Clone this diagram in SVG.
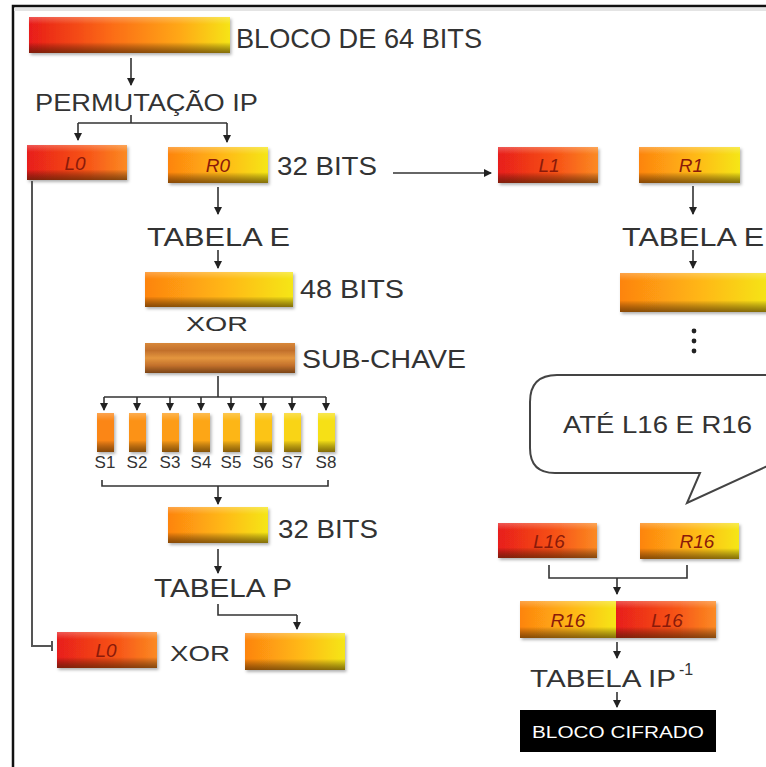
<svg xmlns="http://www.w3.org/2000/svg" width="766" height="767" viewBox="0 0 766 767">
  <defs>
    <linearGradient id="gFull" x1="0" y1="0" x2="1" y2="0">
      <stop offset="0" stop-color="#e81c1a"/>
      <stop offset="0.4" stop-color="#fb6a14"/>
      <stop offset="0.75" stop-color="#ffa814"/>
      <stop offset="1" stop-color="#f6e414"/>
    </linearGradient>
    <linearGradient id="gL" x1="0" y1="0" x2="1" y2="0">
      <stop offset="0" stop-color="#e81e1a"/>
      <stop offset="0.6" stop-color="#f75418"/>
      <stop offset="1" stop-color="#fb8a22"/>
    </linearGradient>
    <linearGradient id="gR" x1="0" y1="0" x2="1" y2="0">
      <stop offset="0" stop-color="#fd8410"/>
      <stop offset="0.55" stop-color="#ffb814"/>
      <stop offset="1" stop-color="#f5e614"/>
    </linearGradient>
    <linearGradient id="gSub" x1="0" y1="0" x2="0" y2="1">
      <stop offset="0" stop-color="#d8883a"/>
      <stop offset="0.25" stop-color="#c2702c"/>
      <stop offset="0.5" stop-color="#e4963e"/>
      <stop offset="0.75" stop-color="#c2702c"/>
      <stop offset="1" stop-color="#7a4416"/>
    </linearGradient>
    <linearGradient id="shade" x1="0" y1="0" x2="0" y2="1">
      <stop offset="0" stop-color="#ffffff" stop-opacity="0.25"/>
      <stop offset="0.2" stop-color="#ffffff" stop-opacity="0"/>
      <stop offset="0.7" stop-color="#000000" stop-opacity="0"/>
      <stop offset="1" stop-color="#3a2000" stop-opacity="0.6"/>
    </linearGradient>
    <filter id="drop" x="-10%" y="-20%" width="130%" height="160%">
      <feDropShadow dx="1.5" dy="2" stdDeviation="1.5" flood-color="#000" flood-opacity="0.3"/>
    </filter>
    <marker id="ah" markerWidth="8" markerHeight="8" refX="7" refY="4" orient="auto" markerUnits="userSpaceOnUse">
      <path d="M0,0 L8,4 L0,8 Z" fill="#222"/>
    </marker>
    <style>
      .t { font-family: "Liberation Sans", "DejaVu Sans", sans-serif; fill: #333; }
      .lb { font-family: "Liberation Sans", "DejaVu Sans", sans-serif; font-style: italic; fill: #8a1a0a; font-size: 19px; text-anchor: middle; }
      .ln { stroke: #333; stroke-width: 1.6; fill: none; }
      .arr { marker-end: url(#ah); }
      .bar { filter: url(#drop); }
    </style>
  </defs>

  <rect x="0" y="0" width="766" height="767" fill="#ffffff"/>

  <!-- frame -->
  <path d="M13 767 V6 H766" fill="none" stroke="#111" stroke-width="2.5"/>
  <rect x="14" y="8" width="752" height="3" fill="#e4e4e4"/>

  <!-- blocks -->
  <g id="bloco64">
    <g class="bar"><rect x="29" y="17" width="201" height="36" fill="url(#gFull)"/></g>
    <rect x="29" y="17" width="201" height="36" fill="url(#shade)"/>
    <text class="t" x="236" y="48" font-size="28" textLength="246" lengthAdjust="spacingAndGlyphs">BLOCO DE 64 BITS</text>
  </g>

  <text class="t" x="35" y="111" font-size="24" textLength="223" lengthAdjust="spacingAndGlyphs">PERMUTAÇÃO IP</text>

  <g id="L0">
    <g class="bar"><rect x="27" y="145" width="100" height="35" fill="url(#gL)"/></g>
    <rect x="27" y="145" width="100" height="35" fill="url(#shade)"/>
    <text class="lb" x="75" y="170">L0</text>
  </g>

  <g id="R0">
    <g class="bar"><rect x="168" y="147" width="100" height="36" fill="url(#gR)"/></g>
    <rect x="168" y="147" width="100" height="36" fill="url(#shade)"/>
    <text class="lb" x="218" y="172">R0</text>
    <text class="t" x="277" y="175" font-size="25" textLength="100" lengthAdjust="spacingAndGlyphs">32 BITS</text>
  </g>

  <g id="L1">
    <g class="bar"><rect x="498" y="147" width="100" height="36" fill="url(#gL)"/></g>
    <rect x="498" y="147" width="100" height="36" fill="url(#shade)"/>
    <text class="lb" x="549" y="172">L1</text>
  </g>

  <g id="R1">
    <g class="bar"><rect x="639" y="147" width="101" height="36" fill="url(#gR)"/></g>
    <rect x="639" y="147" width="101" height="36" fill="url(#shade)"/>
    <text class="lb" x="691" y="172">R1</text>
  </g>

  <text class="t" x="147" y="246" font-size="25" textLength="143" lengthAdjust="spacingAndGlyphs">TABELA E</text>
  <text class="t" x="622" y="246" font-size="25" textLength="142" lengthAdjust="spacingAndGlyphs">TABELA E</text>

  <g id="e48">
    <g class="bar"><rect x="145" y="272" width="148" height="35" fill="url(#gR)"/></g>
    <rect x="145" y="272" width="148" height="35" fill="url(#shade)"/>
    <text class="t" x="300" y="298" font-size="25" textLength="104" lengthAdjust="spacingAndGlyphs">48 BITS</text>
  </g>

  <g id="e48right">
    <g class="bar"><rect x="620" y="273" width="150" height="39" fill="url(#gR)"/></g>
    <rect x="620" y="273" width="150" height="39" fill="url(#shade)"/>
  </g>

  <text class="t" x="186" y="331" font-size="21" textLength="62" lengthAdjust="spacingAndGlyphs">XOR</text>

  <g id="subchave">
    <g class="bar"><rect x="145" y="343" width="150" height="30" fill="url(#gSub)"/></g>
    <text class="t" x="302" y="368" font-size="25" textLength="164" lengthAdjust="spacingAndGlyphs">SUB-CHAVE</text>
  </g>

  <!-- continuation dots -->
  <g id="dots" fill="#222">
    <circle cx="694" cy="331" r="2.4"/>
    <circle cx="694" cy="341" r="2.4"/>
    <circle cx="694" cy="351" r="2.4"/>
  </g>

  <!-- S-boxes -->
  <g id="sboxes">
    <g class="bar">
      <rect x="97" y="413" width="17" height="39" fill="#fb8612"/>
      <rect x="129" y="413" width="17" height="39" fill="#fc9212"/>
      <rect x="162" y="413" width="17" height="39" fill="#fd9c12"/>
      <rect x="193" y="413" width="17" height="39" fill="#fda612"/>
      <rect x="223" y="413" width="17" height="39" fill="#fdb614"/>
      <rect x="255" y="413" width="17" height="39" fill="#fcc414"/>
      <rect x="284" y="413" width="17" height="39" fill="#f9d416"/>
      <rect x="318" y="413" width="17" height="39" fill="#f6e018"/>
    </g>
    <g fill="url(#shade)">
      <rect x="97" y="413" width="17" height="39"/>
      <rect x="129" y="413" width="17" height="39"/>
      <rect x="162" y="413" width="17" height="39"/>
      <rect x="193" y="413" width="17" height="39"/>
      <rect x="223" y="413" width="17" height="39"/>
      <rect x="255" y="413" width="17" height="39"/>
      <rect x="284" y="413" width="17" height="39"/>
      <rect x="318" y="413" width="17" height="39"/>
    </g>
    <g class="t" font-size="17" text-anchor="middle">
      <text x="105" y="468">S1</text>
      <text x="137" y="468">S2</text>
      <text x="170" y="468">S3</text>
      <text x="201" y="468">S4</text>
      <text x="231" y="468">S5</text>
      <text x="263" y="468">S6</text>
      <text x="292" y="468">S7</text>
      <text x="326" y="468">S8</text>
    </g>
  </g>

  <g id="p32">
    <g class="bar"><rect x="168" y="507" width="100" height="36" fill="url(#gR)"/></g>
    <rect x="168" y="507" width="100" height="36" fill="url(#shade)"/>
    <text class="t" x="278" y="538" font-size="25" textLength="100" lengthAdjust="spacingAndGlyphs">32 BITS</text>
  </g>

  <text class="t" x="154" y="597" font-size="25" textLength="138" lengthAdjust="spacingAndGlyphs">TABELA P</text>

  <g id="L0b">
    <g class="bar"><rect x="57" y="632" width="100" height="36" fill="url(#gL)"/></g>
    <rect x="57" y="632" width="100" height="36" fill="url(#shade)"/>
    <text class="lb" x="106" y="657">L0</text>
  </g>

  <text class="t" x="170" y="661" font-size="22" textLength="60" lengthAdjust="spacingAndGlyphs">XOR</text>

  <g id="fout">
    <g class="bar"><rect x="245" y="633" width="100" height="37" fill="url(#gR)"/></g>
    <rect x="245" y="633" width="100" height="37" fill="url(#shade)"/>
  </g>

  <!-- speech bubble -->
  <g id="bubble">
    <path d="M557 375 H770 Q800 375 800 405 V451 L687 503 L700 473 H555 Q530 473 530 448 V402 Q530 375 557 375 Z" fill="#ffffff" stroke="#444" stroke-width="2"/>
    <text class="t" x="563" y="433" font-size="24" textLength="189" lengthAdjust="spacingAndGlyphs">ATÉ L16 E R16</text>
  </g>

  <g id="L16">
    <g class="bar"><rect x="498" y="523" width="99" height="35" fill="url(#gL)"/></g>
    <rect x="498" y="523" width="99" height="35" fill="url(#shade)"/>
    <text class="lb" x="549" y="548">L16</text>
  </g>

  <g id="R16">
    <g class="bar"><rect x="640" y="523" width="99" height="36" fill="url(#gR)"/></g>
    <rect x="640" y="523" width="99" height="36" fill="url(#shade)"/>
    <text class="lb" x="697" y="548">R16</text>
  </g>

  <g id="R16L16">
    <g class="bar">
      <rect x="520" y="601" width="96" height="37" fill="url(#gR)"/>
      <rect x="616" y="601" width="100" height="37" fill="url(#gL)"/>
    </g>
    <rect x="520" y="601" width="196" height="37" fill="url(#shade)"/>
    <text class="lb" x="568" y="627">R16</text>
    <text class="lb" x="667" y="627">L16</text>
  </g>

  <text class="t" x="530" y="687" font-size="24" textLength="146" lengthAdjust="spacingAndGlyphs">TABELA IP</text>
  <text class="t" x="679" y="675" font-size="16">-1</text>

  <g id="cifrado">
    <rect x="520" y="710" width="196" height="42" fill="#000"/>
    <text x="618" y="738" font-family="Liberation Sans, DejaVu Sans, sans-serif" font-size="17" fill="#ffffff" text-anchor="middle" textLength="172" lengthAdjust="spacingAndGlyphs">BLOCO CIFRADO</text>
  </g>

  <!-- connectors -->
  <g id="connectors">
    <path class="ln arr" d="M131 58 V85"/>
    <path class="ln" d="M131 115 V123 M78 123 H227"/>
    <path class="ln arr" d="M78 123 V140"/>
    <path class="ln arr" d="M227 123 V142"/>
    <path class="ln arr" d="M393 173 H491"/>
    <path class="ln arr" d="M218 187 V214"/>
    <path class="ln arr" d="M693 186 V214"/>
    <path class="ln arr" d="M218 250 V268"/>
    <path class="ln arr" d="M693 250 V268"/>
    <path class="ln" d="M218 376 V397 M104 397 H326"/>
    <path class="ln arr" d="M104 397 V410"/>
    <path class="ln arr" d="M137 397 V410"/>
    <path class="ln arr" d="M170 397 V410"/>
    <path class="ln arr" d="M201 397 V410"/>
    <path class="ln arr" d="M231 397 V410"/>
    <path class="ln arr" d="M263 397 V410"/>
    <path class="ln arr" d="M292 397 V410"/>
    <path class="ln arr" d="M326 397 V410"/>
    <path class="ln" d="M102 480 V486 H328 V480"/>
    <path class="ln arr" d="M218 486 V504"/>
    <path class="ln arr" d="M218 549 V573"/>
    <path class="ln" d="M218 604 V615 H297"/>
    <path class="ln arr" d="M297 615 V629"/>
    <path d="M32 181 V646 H52 M52 641 V651" fill="none" stroke="#555" stroke-width="2"/>
    <path class="ln" d="M549 565 V578 H687 V565"/>
    <path class="ln arr" d="M617 578 V594"/>
    <path class="ln arr" d="M617 642 V658"/>
    <path class="ln arr" d="M617 692 V707"/>
  </g>
</svg>
